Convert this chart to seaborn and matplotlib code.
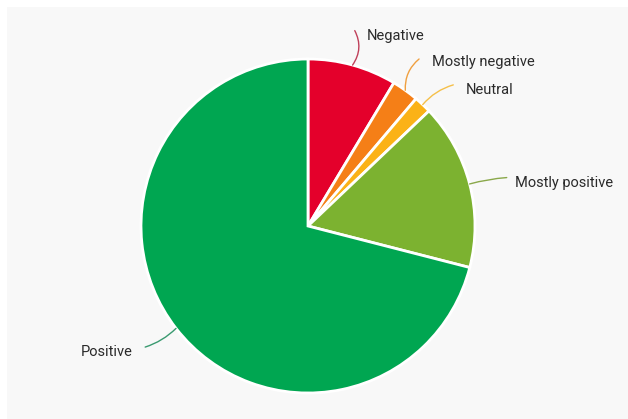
import numpy as np
import matplotlib
matplotlib.use("Agg")
import matplotlib.pyplot as plt
import seaborn as sns

# Datos (porcentajes aproximados)
labels = ["Negative", "Mostly negative", "Neutral", "Mostly positive", "Positive"]
values = [8.6, 2.6, 1.7, 16.1, 71.0]
colors = ["#e4002b", "#f57f17", "#fbb217", "#7cb230", "#00a651"]
line_colors = ["#c0405a", "#f0a040", "#f5c04a", "#8aa84a", "#3a9a70"]

# Posición de etiquetas y extremos de las líneas (coordenadas del eje, radio = 1)
label_pos = [(0.35, 1.14), (0.74, 0.98), (0.945, 0.815), (1.24, 0.255), (-1.36, -0.755)]
line_end = [(0.28, 1.17), (0.665, 1.0), (0.87, 0.845), (1.19, 0.29), (-0.975, -0.725)]
line_rad = [-0.3, 0.25, 0.15, 0.05, 0.12]

sns.set_theme(style="white")
plt.rcParams["font.family"] = ["Roboto", "DejaVu Sans"]

fig = plt.figure(figsize=(6.28, 4.19), dpi=100)
fig.patch.set_facecolor("white")

# Panel gris de fondo
bg = fig.add_axes([7 / 628, 0, 621 / 628, 412 / 419], zorder=-1)
bg.set_facecolor("#f8f8f8")
bg.set_xticks([])
bg.set_yticks([])
for s in bg.spines.values():
    s.set_visible(False)

# Centro (308, 226) px, radio 167 px
ax = fig.add_axes([(308 - 167) / 628, (419 - 226 - 167) / 419, 334 / 628, 334 / 419], zorder=1)
ax.set_facecolor("none")

wedges, _ = ax.pie(values, colors=colors, startangle=90, counterclock=False,
                   wedgeprops=dict(edgecolor="white", linewidth=2))
ax.set_xlim(-1, 1)
ax.set_ylim(-1, 1)

for w, lab, pos, end, lc, rad in zip(wedges, labels, label_pos, line_end, line_colors, line_rad):
    mid = np.deg2rad((w.theta1 + w.theta2) / 2)
    start = (np.cos(mid), np.sin(mid))
    ax.annotate("", xy=start, xytext=end,
                arrowprops=dict(arrowstyle="-", color=lc, lw=1,
                                connectionstyle=f"arc3,rad={rad}",
                                shrinkA=0, shrinkB=0),
                annotation_clip=False)
    ax.text(pos[0], pos[1], lab, ha="left", va="center", fontsize=10.5,
            color="#2a2a2a", clip_on=False)

fig.savefig("out.png", dpi=100)
